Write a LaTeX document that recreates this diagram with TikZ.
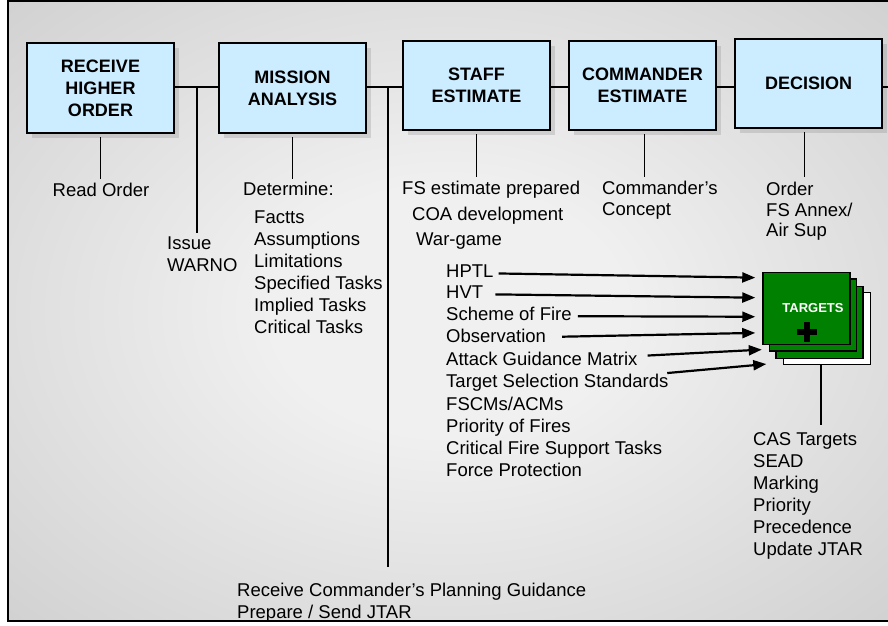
\documentclass[tikz,border=0pt]{standalone}
\usepackage{fontspec}
\setmainfont{Liberation Sans}
\usepackage{tikz}
\usetikzlibrary{arrows.meta,calc,shadows}
\definecolor{boxblue}{HTML}{CCECFF}
\definecolor{tgtgreen}{HTML}{008000}
\definecolor{bgdark}{HTML}{C0C0C0}
\definecolor{bglight}{HTML}{F0F0F0}
\pgfdeclareradialshading{glow}{\pgfpoint{0bp}{0bp}}{color(0bp)=(bglight); color(10bp)=(bglight); color(50bp)=(bgdark)}
\tikzset{
  phase/.style={draw=black,line width=2pt,fill=boxblue,align=center,
    font=\bfseries\fontsize{18}{22}\selectfont,minimum width=147pt,minimum height=90pt,inner sep=2pt,
    drop shadow={shadow xshift=5pt,shadow yshift=-5pt,fill=black!60,opacity=0.2}},
  txt/.style={font=\fontsize{18.5}{22}\selectfont,inner sep=0pt,align=left},
  item/.style={txt,text height=13pt,text depth=4pt,anchor=base west},
  link/.style={draw=black,line width=1.6pt},
  arr/.style={-{Triangle[length=13pt,width=10pt]},line width=2.2pt,draw=black,shorten >=7pt},
  card/.style={draw=black,line width=1.5pt,fill=tgtgreen,minimum width=87pt,minimum height=72pt,inner sep=0pt},
}

\begin{document}
\begin{tikzpicture}[x=1pt,y=-1pt]
  \useasboundingbox (0,0) rectangle (888,625);
  % backdrop
  \fill[white] (0,0) rectangle (888,625);
  \shade[shading=glow] (8,1) rectangle (888,621);
  \draw[line width=2.5pt] (888,1) -- (8,1) -- (8,621) -- (888,621);
  % planning steps
  \node[phase] (rho) at (100.5,88) {RECEIVE\\HIGHER\\ORDER};
  \node[phase] (ma) at (292.5,88) {MISSION\\ANALYSIS};
  \node[phase,minimum height=89pt] (se) at (476.5,85.5) {STAFF\\ESTIMATE};
  \node[phase,minimum height=89pt] (ce) at (642.5,85.5) {COMMANDER\\ESTIMATE};
  \node[phase,minimum height=89pt] (dec) at (808.5,83.5) {DECISION};
  \coordinate (j1) at (197,87);
  \coordinate (j2) at (388,87);
  \coordinate (rt) at (888,87);
  \draw[link] (rho.east |- j1) -- (ma.west |- j1);
  \draw[link] (ma.east |- j2) -- (se.west |- j2);
  \draw[link] (se.east |- j2) -- (ce.west |- j2);
  \draw[link] (ce.east |- j2) -- (dec.west |- j2);
  \draw[link] (dec.east |- rt) -- (rt);
  % notes under the steps
  \node[txt,anchor=north] (rd) at (101,183) {Read Order};
  \node[txt,anchor=north west] (warno) at (167,237) {Issue\\WARNO};
  \node[txt,anchor=north west] (det) at (243,182) {Determine:};
  \node[txt,anchor=north west] (mal) at (254,211) {Factts\\Assumptions\\Limitations\\Specified Tasks\\Implied Tasks\\Critical Tasks};
  \node[txt,anchor=north west] (fse) at (402,181) {FS estimate prepared};
  \node[txt,anchor=north west] (coa) at (412,207) {COA development};
  \node[txt,anchor=north west] (wg) at (416,233) {War-game};
  \node[txt,anchor=north west,font=\fontsize{18.5}{21}\selectfont] (cc) at (602,181) {Commander's\\Concept};
  \node[txt,anchor=north west,font=\fontsize{18.5}{20.5}\selectfont] (ord) at (766,182) {Order\\FS Annex/\\Air Sup};
  \node[txt,anchor=north west] (guid) at (237,583) {Receive Commander's Planning Guidance\\Prepare / Send JTAR};
  \draw[link,shorten <=3pt,shorten >=4pt] (rho.south) -- (rho.south |- rd.north);
  \draw[link,shorten >=4pt] (j1) -- (j1 |- warno.north);
  \draw[link,shorten <=3pt,shorten >=3pt] (ma.south) -- (ma.south |- det.north);
  \draw[link] (j2) -- ($(j2 |- guid.north)+(0,-16)$);
  \draw[link,shorten <=3pt,shorten >=4pt] (se.south) -- (se.south |- fse.north);
  \draw[link,shorten <=3pt,shorten >=4pt] ([xshift=2pt]ce.south) -- ([xshift=2pt]ce.south |- cc.north);
  \draw[link,shorten <=3pt,shorten >=5pt] ([xshift=-4pt]dec.south) -- ([xshift=-4pt]dec.south |- ord.north);
  % target cards
  \node[card,fill=white] (tg4) at (827,328.5) {};
  \node[card] (tg3) at (819.5,322.5) {};
  \node[card] (tg2) at (813,315) {};
  \node[card] (tg1) at (806.5,308.5) {};
  \node[font=\bfseries\fontsize{13}{15}\selectfont,text=white] (tgl) at (813,308) {TARGETS};
  \draw[line width=6pt] ($(tg1)+(-10,23.5)$) -- ++(20,0) ($(tg1)+(0,13.5)$) -- ++(0,20);
  % inputs
  \node[item] (hptl) at (446,277.5) {HPTL};
  \node[item] (hvt) at (446,298.5) {HVT};
  \node[item] (sof) at (446,320.5) {Scheme of Fire};
  \node[item] (obs) at (446,342.5) {Observation};
  \node[item] (agm) at (446,365.5) {Attack Guidance Matrix};
  \node[item] (tss) at (446,387.5) {Target Selection Standards};
  \node[txt,anchor=north west] (rest) at (446,397) {FSCMs/ACMs\\Priority of Fires\\Critical Fire Support Tasks\\Force Protection};
  \draw[arr,shorten <=5pt] (hptl) -- ($(tg1.north west)+(0,6)$);
  \draw[arr,shorten <=12pt] (hvt) -- ($(tg1.north west)+(0,26)$);
  \draw[arr,shorten <=6pt] (sof) -- ($(tg1.north west)+(0,45)$);
  \draw[arr,shorten <=16pt] (obs) -- ($(tg1.north west)+(0,61)$);
  \draw[arr,shorten <=10pt] (agm) -- ($(tg2.north west)+(0,71)$);
  \draw[arr,shorten <=14pt,shorten >=9pt] (tss) -- ($(tg3.south west)+(0,4)$);
  % outputs
  \coordinate (tl) at ($(tg4.south west)+(38,0)$);
  \node[txt,anchor=north west] (cas) at (753,432) {CAS Targets\\SEAD\\Marking\\Priority\\Precedence\\Update JTAR};
  \draw[link,shorten >=7pt] (tl) -- (tl |- cas.north);
\end{tikzpicture}
\end{document}
